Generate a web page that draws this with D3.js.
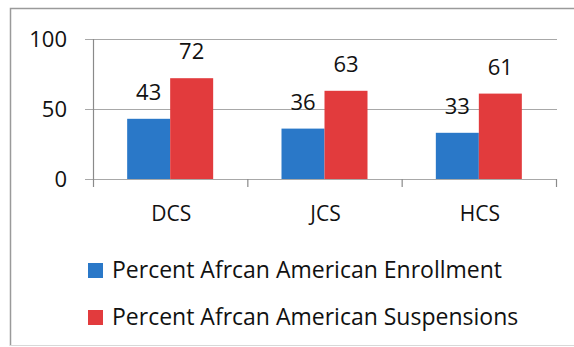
<!DOCTYPE html>
<html>
<head>
<meta charset="utf-8">
<script src="https://cdn.jsdelivr.net/npm/d3@7"></script>
<style>
  html, body { margin: 0; padding: 0; background: #fff; }
  svg { display: block; }
  text { font-family: "Open Sans", sans-serif; fill: #111; }
</style>
</head>
<body>
<svg id="chart" width="574" height="347"></svg>
<script>
// District codes along the x axis
const categories = ["DCS", "JCS", "HCS"];
// Series names as shown in the legend
const seriesNames = ["Percent Afrcan American Enrollment", "Percent Afrcan American Suspensions"];
// Percent values per district
const enrollment = [43, 36, 33];
const suspensions = [72, 63, 61];
// Value axis ticks
const yTicks = [0, 50, 100];

const colors = ["#2a78c8", "#e23b3d"];
const seriesValues = [enrollment, suspensions];

const svg = d3.select("#chart");

// outer frame
svg.append("path")
  .attr("d", "M10.5,346 L10.5,8.5 L574,8.5")
  .attr("fill", "none").attr("stroke", "#9a9a9a").attr("stroke-width", 1.5);
svg.append("line")
  .attr("x1", 10).attr("x2", 574).attr("y1", 345.5).attr("y2", 345.5)
  .attr("stroke", "#d8d8d8").attr("stroke-width", 1);

const x = d3.scaleBand().domain(categories).range([93, 556]).paddingInner(0).paddingOuter(0);
const y = d3.scaleLinear().domain([0, 100]).range([179, 39]);
const bw = x.bandwidth();
const x1 = d3.scaleBand().domain([0, 1]).range([bw / 2 - 43, bw / 2 + 43]);

// horizontal gridlines
svg.append("g").selectAll("line").data(yTicks).join("line")
  .attr("x1", 85).attr("x2", 557)
  .attr("y1", d => Math.round(y(d)) + 0.5).attr("y2", d => Math.round(y(d)) + 0.5)
  .attr("stroke", "#a8a8a8").attr("stroke-width", 1.2);

// y axis line
svg.append("line")
  .attr("x1", 93.5).attr("x2", 93.5).attr("y1", y(100)).attr("y2", 187)
  .attr("stroke", "#8a8a8a").attr("stroke-width", 1.2);

// category separator ticks
const bounds = categories.map(c => x(c) + bw);
svg.append("g").selectAll("line").data(bounds).join("line")
  .attr("x1", d => d + 0.5).attr("x2", d => d + 0.5)
  .attr("y1", y(0)).attr("y2", 187)
  .attr("stroke", "#8a8a8a").attr("stroke-width", 1.2);

// y tick labels
svg.append("g").selectAll("text").data(yTicks).join("text")
  .attr("x", 67).attr("y", d => y(d) + 8)
  .attr("text-anchor", "end")
  .style("font-size", "22px")
  .text(d => d);

// bars
const groups = svg.append("g").selectAll("g").data(categories).join("g")
  .attr("transform", d => `translate(${x(d)},0)`);

groups.selectAll("rect")
  .data((c, i) => seriesValues.map((vals, s) => ({ s, v: vals[i] })))
  .join("rect")
  .attr("x", d => x1(d.s))
  .attr("width", x1.bandwidth())
  .attr("y", d => y(d.v))
  .attr("height", d => y(0) - y(d.v))
  .attr("fill", d => colors[d.s]);

// value labels
groups.selectAll("text")
  .data((c, i) => seriesValues.map((vals, s) => ({ s, v: vals[i] })))
  .join("text")
  .attr("x", d => x1(d.s) + x1.bandwidth() / 2)
  .attr("y", d => y(d.v) - 19)
  .attr("text-anchor", "middle")
  .style("font-size", "22px")
  .text(d => d.v);

// category labels
svg.append("g").selectAll("text").data(categories).join("text")
  .attr("x", d => x(d) + bw / 2 + 1)
  .attr("y", 221)
  .attr("text-anchor", "middle")
  .style("font-size", "21px")
  .text(d => d);

// legend
const legend = svg.append("g").selectAll("g").data(seriesNames).join("g")
  .attr("transform", (d, i) => `translate(88,${263 + i * 47})`);
legend.append("rect")
  .attr("width", 15).attr("height", 15)
  .attr("fill", (d, i) => colors[i]);
legend.append("text")
  .attr("x", 24).attr("y", 14.5)
  .style("font-size", "23px")
  .text(d => d);
</script>
</body>
</html>
